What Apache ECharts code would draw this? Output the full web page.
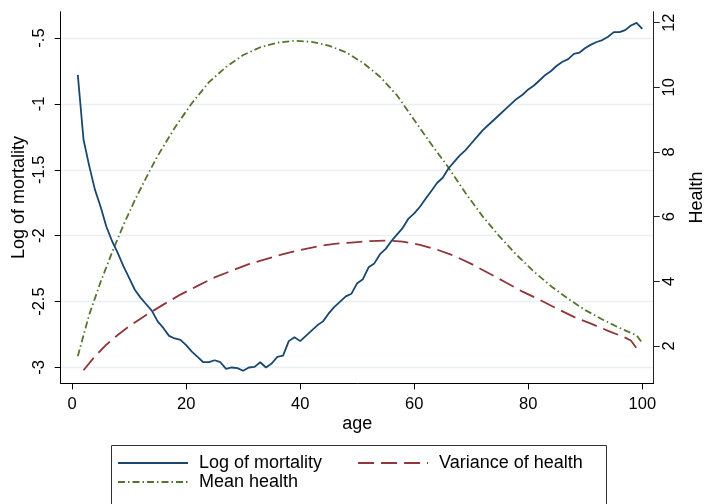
<!DOCTYPE html>
<html>
<head>
<meta charset="utf-8">
<script src="https://cdn.jsdelivr.net/npm/echarts@6/dist/echarts.min.js"></script>
<style>
html,body{margin:0;padding:0;background:#fff;}
#chart{width:708px;height:504px;}
</style>
</head>
<body>
<div id="chart"></div>
<script>
// ---- Data ----
const mortalityAges = [1,2,3,4,5,6,7,8,9,10,11,12,13,14,15,16,17,18,19,20,
  21,22,23,24,25,26,27,28,29,30,31,32,33,34,35,36,37,38,39,40,
  41,42,43,44,45,46,47,48,49,50,51,52,53,54,55,56,57,58,59,60,
  61,62,63,64,65,66,67,68,69,70,71,72,73,74,75,76,77,78,79,80,
  81,82,83,84,85,86,87,88,89,90,91,92,93,94,95,96,97,98,99,100];
const logMortality = [-0.78,-1.27,-1.47,-1.65,-1.78,-1.93,-2.04,-2.13,-2.23,-2.32,
  -2.41,-2.47,-2.52,-2.57,-2.65,-2.70,-2.76,-2.78,-2.79,-2.83,
  -2.88,-2.92,-2.96,-2.96,-2.945,-2.96,-3.01,-3.00,-3.005,-3.025,
  -3.00,-2.995,-2.96,-3.00,-2.97,-2.92,-2.91,-2.80,-2.77,-2.80,
  -2.76,-2.72,-2.68,-2.65,-2.59,-2.54,-2.50,-2.46,-2.44,-2.36,
  -2.33,-2.24,-2.21,-2.14,-2.10,-2.04,-1.99,-1.94,-1.87,-1.83,
  -1.78,-1.72,-1.66,-1.60,-1.56,-1.49,-1.44,-1.39,-1.35,-1.30,
  -1.25,-1.20,-1.16,-1.12,-1.08,-1.04,-1.00,-0.96,-0.93,-0.89,
  -0.86,-0.82,-0.78,-0.75,-0.71,-0.68,-0.66,-0.62,-0.61,-0.575,
  -0.55,-0.53,-0.515,-0.49,-0.455,-0.455,-0.44,-0.405,-0.385,-0.43];

const varianceAges = [2,4,6,8,10,13,16,19,22,25,28,31,34,37,40,43,46,49,52,55,
  58,61,64,67,70,73,76,79,82,85,88,91,94,97,98,99];
const varianceHealth = [1.25,1.68,2.04,2.34,2.61,2.96,3.28,3.59,3.86,4.12,4.33,4.53,4.69,4.84,4.97,5.08,5.16,5.20,5.24,5.26,
  5.23,5.13,4.98,4.79,4.54,4.26,3.97,3.68,3.43,3.16,2.90,2.69,2.47,2.26,2.17,1.93];

const meanAges = [1,3,5,7,9,11,13,15,18,21,24,27,30,33,36,39,42,45,48,51,
  54,57,60,63,66,69,72,75,78,81,84,87,90,93,96,99,100];
const meanHealth = [1.68,2.97,3.98,4.89,5.74,6.51,7.21,7.88,8.75,9.51,10.16,10.63,11.0,11.24,11.38,11.44,11.41,11.29,11.09,10.76,
  10.33,9.75,8.99,8.24,7.52,6.73,6.01,5.38,4.81,4.30,3.85,3.46,3.11,2.82,2.56,2.33,2.09];

const xTicks = [0,20,40,60,80,100];
const leftTicks = [-3,-2.5,-2,-1.5,-1,-0.5];
const rightTicks = [2,4,6,8,10,12];

const seriesNames = ['Log of mortality','Variance of health','Mean health'];

// ---- Chart ----
const FONT = '"Liberation Sans", Arial, Helvetica, sans-serif';
const pair = (xs, ys) => xs.map((x, i) => [x, ys[i]]);
const fmtLeft = v => {
  const s = String(Math.round(v * 100) / 100);
  return s.replace(/^-0\./, '-.').replace(/^0\./, '.');
};

const legendCommon = {
  padding: 0, itemWidth: 70, itemHeight: 14,
  itemStyle: {opacity: 0},
  textStyle: {fontSize: 18, color: '#000', fontFamily: FONT, padding: [0, 0, 0, 6]}
};

const chart = echarts.init(document.getElementById('chart'), null, {renderer: 'canvas'});
chart.setOption({
  animation: false,
  backgroundColor: '#ffffff',
  textStyle: {fontFamily: FONT, color: '#000'},
  grid: {left: 60.7, right: 54.3, top: 11.7, bottom: 120.7, containLabel: false, outerBoundsMode: 'none'},
  xAxis: {
    type: 'value', min: -2, max: 102,
    name: 'age', nameLocation: 'middle', nameGap: 32, nameMoveOverlap: false,
    nameTextStyle: {fontSize: 18, color: '#000', fontFamily: FONT},
    axisLine: {show: true, onZero: false, lineStyle: {color: '#000', width: 1}},
    axisTick: {show: true, length: 6, customValues: xTicks, lineStyle: {color: '#000'}},
    axisLabel: {show: true, customValues: xTicks, margin: 13, fontSize: 16.5, color: '#000', fontFamily: FONT},
    splitLine: {show: false}
  },
  yAxis: [
    {
      type: 'value', position: 'left', min: -3.12, max: -0.3,
      name: 'Log of mortality', nameLocation: 'middle', nameGap: 33, nameRotate: 90, nameMoveOverlap: false,
      nameTextStyle: {fontSize: 18, color: '#000', fontFamily: FONT},
      axisLine: {show: true, onZero: false, lineStyle: {color: '#000', width: 1}},
      axisTick: {show: true, length: 6, customValues: leftTicks, lineStyle: {color: '#000'}},
      axisLabel: {show: true, customValues: leftTicks, rotate: 90, margin: 13, align: 'center', verticalAlign: 'bottom',
        fontSize: 16.5, color: '#000', fontFamily: FONT, formatter: fmtLeft},
      splitLine: {show: true, lineStyle: {color: '#e8f0f2', width: 1.3}}
    },
    {
      type: 'value', position: 'right', min: 0.846, max: 12.34,
      name: 'Health', nameLocation: 'middle', nameGap: 34, nameRotate: 90, nameMoveOverlap: false,
      nameTextStyle: {fontSize: 18, color: '#000', fontFamily: FONT},
      axisLine: {show: true, onZero: false, lineStyle: {color: '#222', width: 1}},
      axisTick: {show: true, length: 6, customValues: rightTicks, lineStyle: {color: '#222'}},
      axisLabel: {show: true, customValues: rightTicks, rotate: 90, margin: 7, align: 'center', verticalAlign: 'top',
        fontSize: 16.5, color: '#000', fontFamily: FONT},
      splitLine: {show: false}
    }
  ],
  legend: [
    Object.assign({data: [seriesNames[0], seriesNames[1]], left: 117, top: 454, itemGap: 35}, legendCommon),
    Object.assign({data: [seriesNames[2]], left: 117, top: 473}, legendCommon)
  ],
  graphic: [{
    type: 'rect', left: 109, top: 443, silent: true,
    shape: {width: 495, height: 80},
    style: {fill: 'none', stroke: '#333', lineWidth: 1}
  }],
  series: [
    {
      name: seriesNames[0], type: 'line', yAxisIndex: 0, showSymbol: false, symbol: 'none',
      data: pair(mortalityAges, logMortality),
      lineStyle: {color: '#1a476f', width: 1.8, type: 'solid'},
      itemStyle: {color: '#1a476f'}, z: 3
    },
    {
      name: seriesNames[1], type: 'line', yAxisIndex: 1, showSymbol: false, symbol: 'none',
      data: pair(varianceAges, varianceHealth),
      lineStyle: {color: '#90353b', width: 1.8, type: [16, 7]},
      itemStyle: {color: '#90353b'}, z: 2
    },
    {
      name: seriesNames[2], type: 'line', yAxisIndex: 1, showSymbol: false, symbol: 'none',
      data: pair(meanAges, meanHealth),
      lineStyle: {color: '#55752f', width: 1.8, type: [7, 3, 1.5, 3]},
      itemStyle: {color: '#55752f'}, z: 2
    }
  ]
});
</script>
</body>
</html>
